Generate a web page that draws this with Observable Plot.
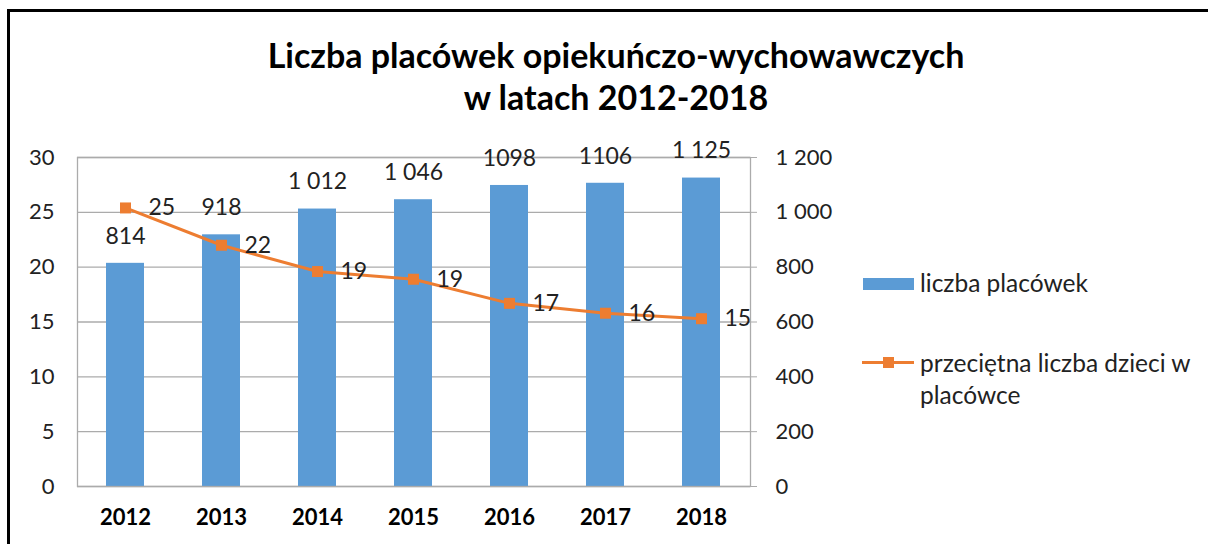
<!DOCTYPE html>
<html><head><meta charset="utf-8">
<script src="https://cdn.jsdelivr.net/npm/d3@7"></script>
<script src="https://cdn.jsdelivr.net/npm/@observablehq/plot@0.6"></script>
<style>
body{margin:0;background:#fff;font-family:Lato,"Open Sans",sans-serif}
#wrap{position:relative;width:1208px;height:544px;overflow:hidden;background:#fff}
#frame{position:absolute;left:7px;top:9px;width:1300px;height:700px;border-left:3px solid #000;border-top:3px solid #000;pointer-events:none}
#title{position:absolute;left:0;width:1232px;top:34px;text-align:center;font-weight:bold;font-size:34px;line-height:42px;color:#000}
#chart{position:absolute;left:0;top:0}
.lg{position:absolute;font-size:24.5px;color:#222;line-height:32px;white-space:nowrap}
.sw{position:absolute}
</style></head>
<body>
<div id="wrap">
  <div id="chart"></div>
  <div id="frame"></div>
  <div id="title">Liczba placówek opiekuńczo-wychowawczych<br>w latach 2012-2018</div>
  <div class="sw" style="left:863px;top:278px;width:51px;height:12px;background:#5B9BD5"></div>
  <div class="lg" style="left:920px;top:267px">liczba placówek</div>
  <div class="sw" style="left:862px;top:361px;width:52px;height:3px;background:#ED7D31"></div>
  <div class="sw" style="left:883px;top:357px;width:11px;height:11px;background:#ED7D31"></div>
  <div class="lg" style="left:920px;top:347px">przeciętna liczba dzieci w<br>placówce</div>
</div>
<script>
const years = ["2012","2013","2014","2015","2016","2017","2018"];
const placowki = [814, 918, 1012, 1046, 1098, 1106, 1125];
const placowkiLabels = ["814","918","1 012","1 046","1098","1106","1 125"];
const dzieci = [25.4, 22.0, 19.6, 18.9, 16.7, 15.8, 15.3];
const dzieciLabels = ["25","22","19","19","17","16","15"];
const leftTicks = [0,5,10,15,20,25,30];
const rightTicks = [0,200,400,600,800,1000,1200];

const ratio = 1200 / 30;
const data = years.map((y, i) => ({year: y, count: placowki[i], countLabel: placowkiLabels[i], avg: dzieci[i], avgLabel: dzieciLabels[i]}));
const fmtSpace = d => d >= 1000 ? Math.floor(d/1000) + " " + String(d % 1000).padStart(3, "0") : String(d);

const grid = "#ABABAB";
const chart = Plot.plot({
  width: 1208,
  height: 544,
  marginLeft: 77,
  marginRight: 458,
  marginTop: 157,
  marginBottom: 58,
  style: {fontFamily: "Lato, 'Open Sans', sans-serif", fontSize: "22px", background: "transparent", overflow: "visible"},
  x: {type: "band", domain: years, paddingInner: 0.6, paddingOuter: 0.3},
  y: {domain: [0, 1200]},
  marks: [
    Plot.ruleY(rightTicks, {stroke: grid, strokeWidth: 1.3}),
    Plot.barY(data, {x: "year", y: "count", fill: "#5B9BD5"}),
    Plot.frame({stroke: grid, strokeWidth: 1.3}),
    Plot.axisY({anchor: "left", ticks: leftTicks.map(v => v * ratio), tickFormat: d => String(d / ratio), tickSize: 0, tickPadding: 23, fill: "#222", fontSize: 22, label: null}),
    Plot.axisY({anchor: "right", ticks: rightTicks, tickFormat: fmtSpace, tickSize: 6, tickPadding: 19, stroke: grid, fill: "#222", fontSize: 22, label: null}),
    Plot.axisX({tickSize: 0, tickPadding: 23, fontSize: 22, fontWeight: "bold", fill: "#000", label: null}),
    Plot.text(data, {x: "year", y: "count", text: "countLabel", dy: -27, fontSize: 23, fill: "#222"}),
    Plot.line(data, {x: "year", y: d => d.avg * ratio, stroke: "#ED7D31", strokeWidth: 3}),
    Plot.dot(data, {x: "year", y: d => d.avg * ratio, symbol: "square", r: 6.2, fill: "#ED7D31", stroke: "none"}),
    Plot.text(data, {x: "year", y: d => d.avg * ratio, text: "avgLabel", textAnchor: "start", dx: 23, fontSize: 23, fill: "#222"})
  ]
});
document.getElementById("chart").appendChild(chart);
</script>
</body></html>
